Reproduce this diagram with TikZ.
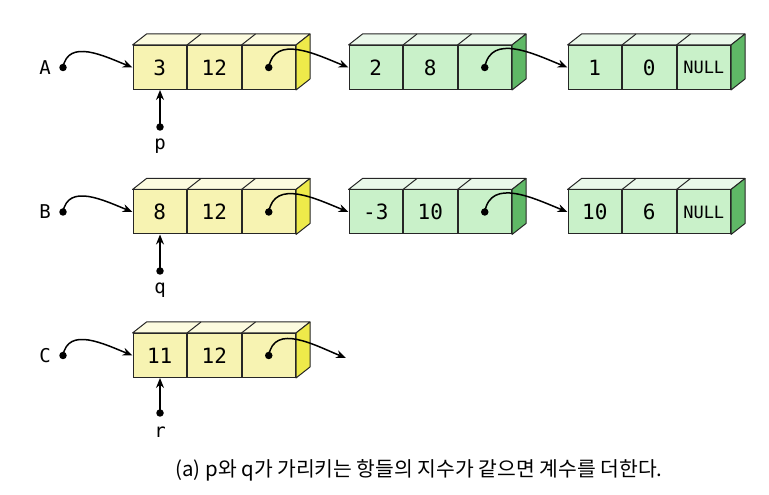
\documentclass[tikz,border=0pt]{standalone}
\usepackage{fontspec}
\setmonofont{DejaVu Sans Mono}
\newfontfamily\krfont{Noto Sans CJK KR}
\usetikzlibrary{arrows.meta,calc}
\definecolor{yfront}{HTML}{F7F3B2}
\definecolor{ytop}{HTML}{FCFBDF}
\definecolor{yside}{HTML}{EEEA4A}
\definecolor{gfront}{HTML}{C9F1C9}
\definecolor{gtop}{HTML}{EAF8EA}
\definecolor{gside}{HTML}{5FB866}
\newcommand{\boxfaces}[5]{%
  \filldraw[face, fill=#4] (#1.north west) -- ++(14,11) -- ($(#3.north east)+(14,11)$) -- (#3.north east) -- cycle;
  \draw[face] (#1.north east) -- ++(14,11);
  \draw[face] (#2.north east) -- ++(14,11);
  \filldraw[face, fill=#5] (#3.north east) -- ++(14,11) -- ($(#3.south east)+(14,11)$) -- (#3.south east) -- cycle;
}
\begin{document}
\begin{tikzpicture}[x=1pt,y=1pt,
  cell/.style={draw=black!85, line width=1pt, minimum width=53.5pt, minimum height=44pt, inner sep=0pt, font=\ttfamily\fontsize{21}{21}\selectfont},
  ycell/.style={cell, fill=yfront},
  gcell/.style={cell, fill=gfront},
  face/.style={draw=black!85, line width=1pt, line join=round},
  ptr/.style={line width=1.5pt, -{Stealth[length=10pt,width=8pt]}},
  curv/.style={ptr, out=80, in=158, looseness=1.1},
  dot/.style={circle, fill=black, inner sep=0pt, minimum size=7.5pt},
  lbl/.style={font=\ttfamily\fontsize{19}{19}\selectfont, inner sep=0pt},
  nullt/.style={font=\ttfamily\fontsize{17}{17}\selectfont},
]
\useasboundingbox (0,0) rectangle (769,495);
% ---------- Row A ----------
\node[ycell] (a1) at (159.75,427.5) {3};
\node[ycell, anchor=west] (a2) at (a1.east) {12};
\node[ycell, anchor=west] (a3) at (a2.east) {};
\node[gcell] (a4) at (375.75,427.5) {2};
\node[gcell, anchor=west] (a5) at (a4.east) {8};
\node[gcell, anchor=west] (a6) at (a5.east) {};
\node[gcell] (a7) at (594.75,427.5) {1};
\node[gcell, anchor=west] (a8) at (a7.east) {0};
\node[gcell, anchor=west, nullt] (a9) at (a8.east) {NULL};
\boxfaces{a1}{a2}{a3}{ytop}{yside}
\boxfaces{a4}{a5}{a6}{gtop}{gside}
\boxfaces{a7}{a8}{a9}{gtop}{gside}
\node[lbl] (A) at (45,427.5) {A};
\node[dot] (Ad) at (63,427.5) {};
\node[dot] (a3d) at (a3.center) {};
\node[dot] (a6d) at (a6.center) {};
\draw[curv] (Ad.center) to (a1.west);
\draw[curv] (a3d.center) to (a4.west);
\draw[curv] (a6d.center) to (a7.west);
\node[dot] (pd) at (160,368) {};
\node[lbl] (p) at (160,349) {p};
\draw[ptr] (pd.center) -- (pd.center |- a1.south);
% ---------- Row B ----------
\node[ycell] (b1) at (159.75,283) {8};
\node[ycell, anchor=west] (b2) at (b1.east) {12};
\node[ycell, anchor=west] (b3) at (b2.east) {};
\node[gcell] (b4) at (375.75,283) {-3};
\node[gcell, anchor=west] (b5) at (b4.east) {10};
\node[gcell, anchor=west] (b6) at (b5.east) {};
\node[gcell] (b7) at (594.75,283) {10};
\node[gcell, anchor=west] (b8) at (b7.east) {6};
\node[gcell, anchor=west, nullt] (b9) at (b8.east) {NULL};
\boxfaces{b1}{b2}{b3}{ytop}{yside}
\boxfaces{b4}{b5}{b6}{gtop}{gside}
\boxfaces{b7}{b8}{b9}{gtop}{gside}
\node[lbl] (B) at (45,283) {B};
\node[dot] (Bd) at (63,283) {};
\node[dot] (b3d) at (b3.center) {};
\node[dot] (b6d) at (b6.center) {};
\draw[curv] (Bd.center) to (b1.west);
\draw[curv] (b3d.center) to (b4.west);
\draw[curv] (b6d.center) to (b7.west);
\node[dot] (qd) at (160,224) {};
\node[lbl] (q) at (160,205) {q};
\draw[ptr] (qd.center) -- (qd.center |- b1.south);
% ---------- Row C ----------
\node[ycell] (c1) at (159.75,139.5) {11};
\node[ycell, anchor=west] (c2) at (c1.east) {12};
\node[ycell, anchor=west] (c3) at (c2.east) {};
\boxfaces{c1}{c2}{c3}{ytop}{yside}
\node[lbl] (C) at (45,139.5) {C};
\node[dot] (Cd) at (63,139.5) {};
\node[dot] (c3d) at (c3.center) {};
\coordinate (cend) at (346,137);
\draw[curv] (Cd.center) to (c1.west);
\draw[curv] (c3d.center) to (cend);
\node[dot] (rd) at (160,82) {};
\node[lbl] (r) at (160,63) {r};
\draw[ptr] (rd.center) -- (rd.center |- c1.south);
% ---------- Caption ----------
\node[font=\krfont\fontsize{20.4}{20.4}\selectfont] (cap) at (419,25) {(a) p와 q가 가리키는 항들의 지수가 같으면 계수를 더한다.};
\end{tikzpicture}
\end{document}
